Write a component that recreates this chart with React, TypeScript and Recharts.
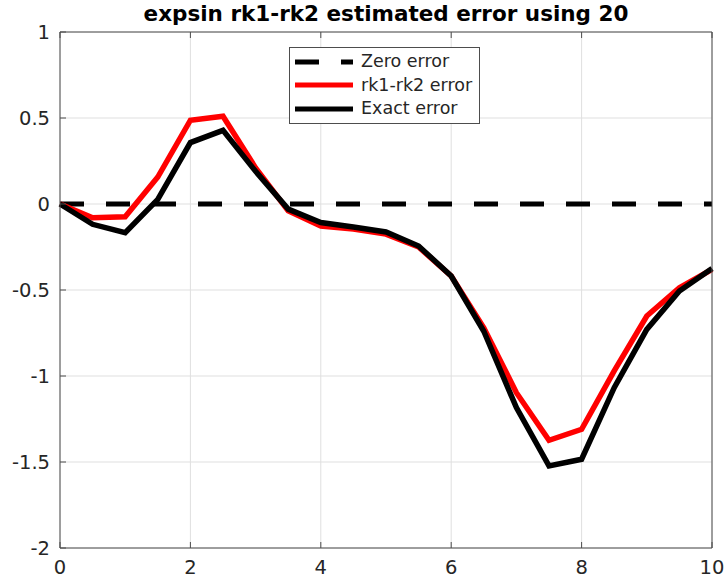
import { CartesianGrid, Line, LineChart, XAxis, YAxis } from "recharts";

const xs = [0, 0.5, 1, 1.5, 2, 2.5, 3, 3.5, 4, 4.5, 5, 5.5, 6, 6.5, 7, 7.5, 8, 8.5, 9, 9.5, 10];
const zeroError = [0, 0, 0, 0, 0, 0, 0, 0, 0, 0, 0, 0, 0, 0, 0, 0, 0, 0, 0, 0, 0];
const rkError = [
  0, -0.08, -0.074, 0.157, 0.487, 0.51, 0.21, -0.04, -0.128, -0.145, -0.175, -0.25, -0.419, -0.72,
  -1.097, -1.374, -1.31, -0.97, -0.651, -0.487, -0.38,
];
const exactError = [
  0, -0.118, -0.167, 0.027, 0.357, 0.428, 0.19, -0.03, -0.108, -0.134, -0.163, -0.244, -0.419, -0.74,
  -1.184, -1.523, -1.484, -1.068, -0.729, -0.506, -0.375,
];
const xTicks = [0, 2, 4, 6, 8, 10];
const yTicks = [-2, -1.5, -1, -0.5, 0, 0.5, 1];
const title = "expsin rk1-rk2 estimated error using 20";

const FONT = "DejaVu Sans, sans-serif";
const AXIS = "#4d4d4d";
const TEXT = "#262626";

const data = xs.map((x, i) => ({
  x,
  zero: zeroError[i],
  rk: rkError[i],
  exact: exactError[i],
}));

const legendItems = [
  { label: "Zero error", color: "#000000", dash: "24 22" },
  { label: "rk1-rk2 error", color: "#ff0000", dash: undefined },
  { label: "Exact error", color: "#000000", dash: undefined },
];

// legend is an overlay so it doesn't take room from the plot
function LegendBox() {
  return (
    <div
      style={{
        position: "absolute",
        left: 289,
        top: 47,
        border: `1px solid ${AXIS}`,
        background: "white",
        padding: "2px 7px 2px 5px",
        fontFamily: FONT,
        fontSize: 17.5,
        color: TEXT,
        lineHeight: "23.5px",
      }}
    >
      {legendItems.map((it) => (
        <div key={it.label} style={{ display: "flex", alignItems: "center" }}>
          <svg width={60} height={10} style={{ marginRight: 6 }}>
            <line
              x1={0}
              y1={5}
              x2={58}
              y2={5}
              stroke={it.color}
              strokeWidth={5}
              strokeDasharray={it.dash}
            />
          </svg>
          <span>{it.label}</span>
        </div>
      ))}
    </div>
  );
}

const emptyTick = () => <g />;

export default function App() {
  return (
    <div style={{ position: "absolute", left: 0, top: 0, width: 724, height: 578, background: "white" }}>
      <div
        style={{
          position: "absolute",
          left: 40,
          width: 692,
          top: 1,
          textAlign: "center",
          fontFamily: FONT,
          fontWeight: "bold",
          fontSize: 21.5,
          color: "#000",
        }}
      >
        {title}
      </div>
      <LineChart
        width={724}
        height={578}
        data={data}
        margin={{ top: 31, right: 11, bottom: 0, left: 0 }}
      >
        <CartesianGrid stroke="#dfdfdf" strokeWidth={1} />
        <XAxis
          dataKey="x"
          type="number"
          domain={[0, 10]}
          ticks={xTicks}
          height={30}
          tickSize={-6}
          tickMargin={18}
          axisLine={{ stroke: AXIS }}
          tickLine={{ stroke: AXIS }}
          tick={{ fill: TEXT, fontSize: 19.5, fontFamily: FONT }}
        />
        <XAxis
          xAxisId="top"
          orientation="top"
          dataKey="x"
          type="number"
          domain={[0, 10]}
          ticks={xTicks}
          height={1}
          tickSize={-6}
          axisLine={{ stroke: AXIS }}
          tickLine={{ stroke: AXIS }}
          tick={emptyTick}
        />
        <YAxis
          type="number"
          domain={[-2, 1]}
          ticks={yTicks}
          width={60}
          tickSize={-6}
          tickMargin={16}
          axisLine={{ stroke: AXIS }}
          tickLine={{ stroke: AXIS }}
          tick={{ fill: TEXT, fontSize: 19.5, fontFamily: FONT }}
          tickFormatter={(v) => String(v)}
        />
        <YAxis
          yAxisId="right"
          orientation="right"
          type="number"
          domain={[-2, 1]}
          ticks={yTicks}
          width={1}
          tickSize={-6}
          axisLine={{ stroke: AXIS }}
          tickLine={{ stroke: AXIS }}
          tick={emptyTick}
        />
        <Line
          dataKey="zero"
          stroke="#000000"
          strokeWidth={5}
          strokeDasharray="24 22"
          dot={false}
          activeDot={false}
          isAnimationActive={false}
        />
        <Line
          dataKey="rk"
          stroke="#ff0000"
          strokeWidth={5.5}
          dot={false}
          activeDot={false}
          isAnimationActive={false}
        />
        <Line
          dataKey="exact"
          stroke="#000000"
          strokeWidth={5.5}
          dot={false}
          activeDot={false}
          isAnimationActive={false}
        />
      </LineChart>
      <LegendBox />
    </div>
  );
}
